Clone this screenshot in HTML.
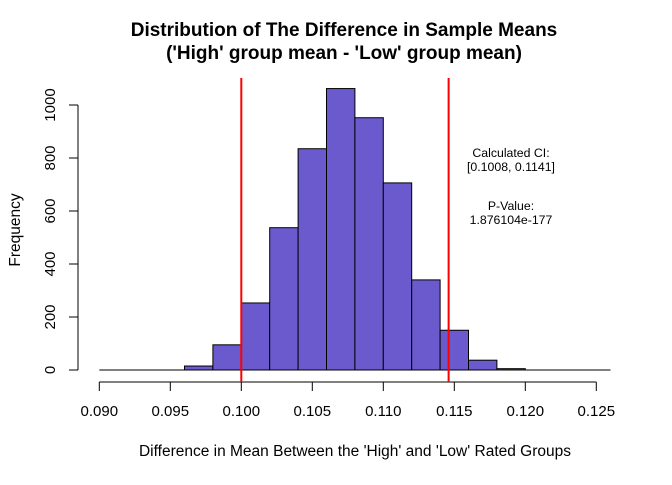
<!DOCTYPE html>
<html><head><meta charset="utf-8"><style>
body{margin:0;background:#fff}
svg text{font-family:"Liberation Sans",Arial,sans-serif;fill:#000}
</style></head><body>
<svg id="chart" width="672" height="480" xmlns="http://www.w3.org/2000/svg">
<text x="344" y="36" font-size="19" font-weight="bold" text-anchor="middle">Distribution of The Difference in Sample Means</text>
<text x="344" y="59" font-size="19" font-weight="bold" text-anchor="middle">('High' group mean - 'Low' group mean)</text>
<text x="355" y="456" font-size="15.5" text-anchor="middle">Difference in Mean Between the 'High' and 'Low' Rated Groups</text>
<text transform="translate(20,230) rotate(-90)" font-size="15.5" text-anchor="middle">Frequency</text>
<g id="bars"></g><g id="axes"></g>
<text x="511" y="157" font-size="12.3" text-anchor="middle">Calculated CI:</text>
<text x="511" y="171" font-size="12.3" text-anchor="middle">[0.1008, 0.1141]</text>
<text x="511" y="210" font-size="12.3" text-anchor="middle">P-Value:</text>
<text x="511" y="224" font-size="12.3" text-anchor="middle">1.876104e-177</text>
</svg>
<script>
const binStarts=[0.096,0.098,0.100,0.102,0.104,0.106,0.108,0.110,0.112,0.114,0.116,0.118];
const counts=[15,95,253,537,835,1062,952,706,340,150,37,5];
const binWidth=0.002;
const xTicks=[0.090,0.095,0.100,0.105,0.110,0.115,0.120,0.125];
const yTicks=[0,200,400,600,800,1000];
const ciLines=[0.1000,0.1146];
const NS="http://www.w3.org/2000/svg";
const X=v=>99.3+(v-0.090)/0.001*14.2;
const Y=v=>370-v*0.265;
function mk(t,a,p){const e=document.createElementNS(NS,t);for(const k in a)e.setAttribute(k,a[k]);p.appendChild(e);return e;}
const bars=document.getElementById('bars'),axes=document.getElementById('axes');
const base=mk('line',{x1:X(0.090),x2:X(0.126),y1:370,y2:370,stroke:'#000'},bars);


binStarts.forEach((b,i)=>{
 const r=mk('rect',{x:X(b),y:Y(counts[i]),width:X(b+binWidth)-X(b),height:370-Y(counts[i]),fill:'#6a5acd',stroke:'#000','stroke-width':1},bars);
 
 
});
mk('line',{x1:X(xTicks[0]),x2:X(xTicks[xTicks.length-1]),y1:382,y2:382,stroke:'#000'},axes);
xTicks.forEach(t=>{
 mk('line',{x1:X(t),x2:X(t),y1:382,y2:391,stroke:'#000'},axes);
 const l=mk('text',{x:X(t),y:416,'font-size':15,'text-anchor':'middle'},axes);l.textContent=t.toFixed(3);
 
 
});
mk('line',{x1:78,x2:78,y1:Y(0),y2:Y(1000),stroke:'#000'},axes);
yTicks.forEach(t=>{
 mk('line',{x1:69,x2:78,y1:Y(t),y2:Y(t),stroke:'#000'},axes);
 const l=mk('text',{transform:`translate(55,${Y(t)}) rotate(-90)`,'font-size':15,'text-anchor':'middle'},axes);l.textContent=t;
 
 
});
ciLines.forEach((c,i)=>{
 const l=mk('line',{x1:X(c),x2:X(c),y1:78,y2:382,stroke:'#ff0000','stroke-width':2},axes);
 
 
});
</script>
</body></html>
